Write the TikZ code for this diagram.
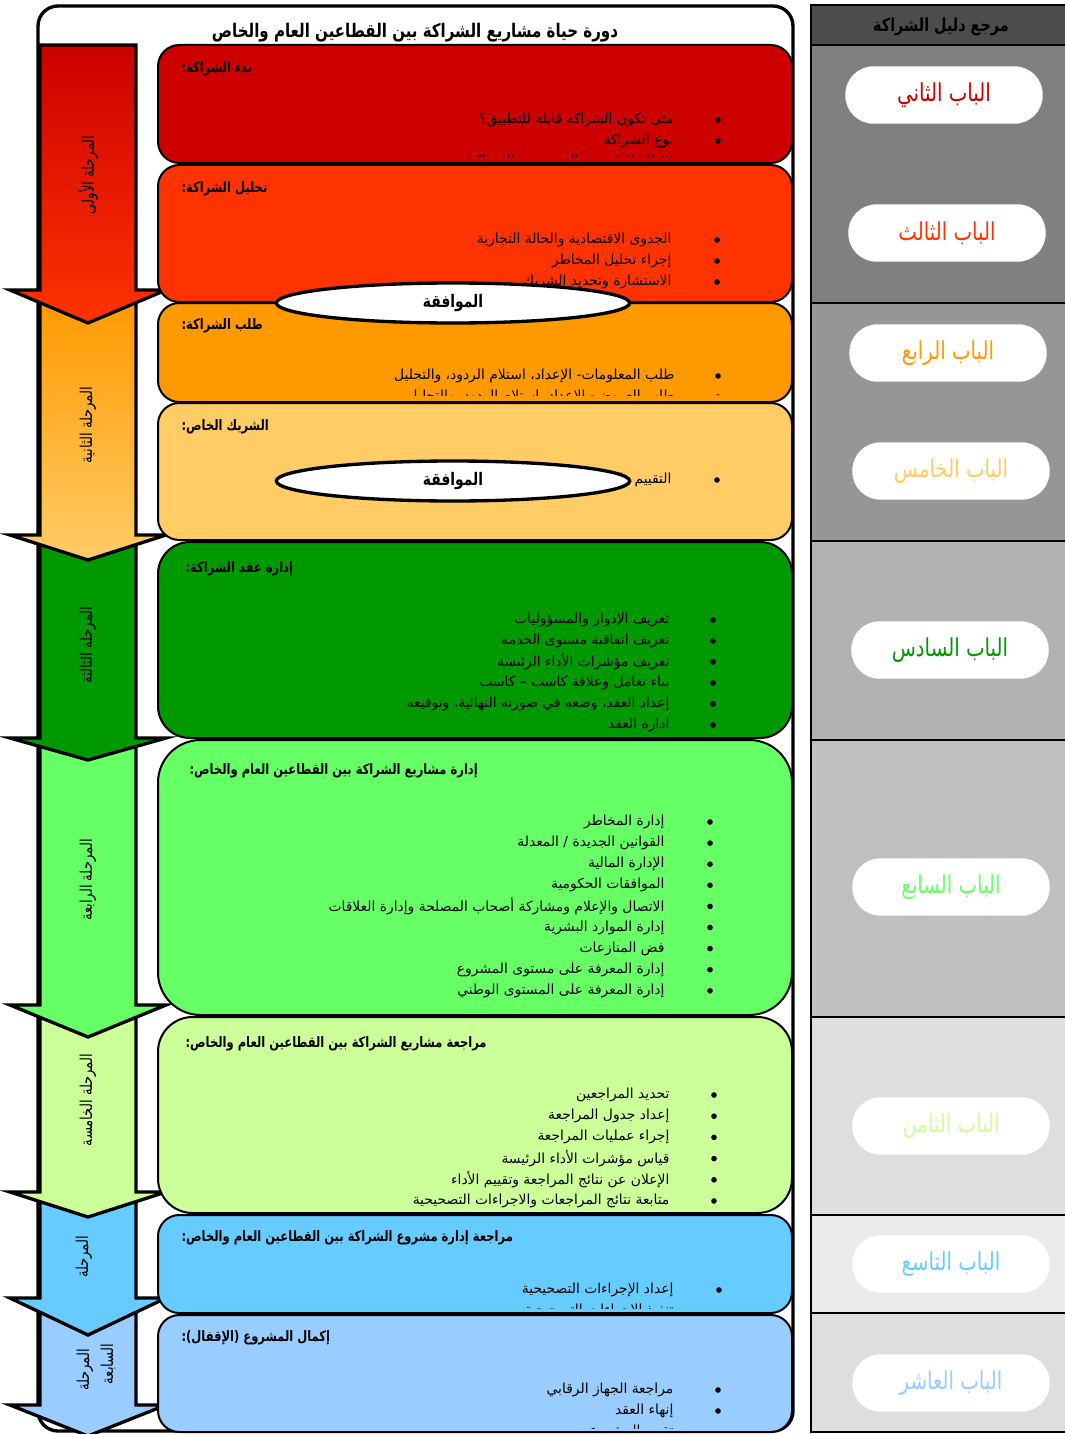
\documentclass[tikz,border=0pt]{standalone}
\usepackage{fontspec}
\newfontfamily\arabicfont[Script=Arabic]{DejaVu Sans}
\newfontfamily\arabicnarrow[Script=Arabic, FakeStretch=0.8]{DejaVu Sans}
\TeXXeTstate=1
\usetikzlibrary{shapes.geometric}

\definecolor{stA}{HTML}{CC0000}
\definecolor{stB}{HTML}{FF3300}
\definecolor{stC}{HTML}{FF9900}
\definecolor{stD}{HTML}{FFCC66}
\definecolor{stE}{HTML}{009900}
\definecolor{stF}{HTML}{66FF66}
\definecolor{stG}{HTML}{CCFF99}
\definecolor{stH}{HTML}{66CCFF}
\definecolor{stI}{HTML}{99CCFF}

% right-to-left run, colour set outside it
\newcommand{\rtlrun}[1]{\beginR#1\endR}

\tikzset{
  rtltext/.style={inner sep=1pt, execute at begin node=\beginR, execute at end node=\endR},
  boxtitle/.style={rtltext, anchor=west, font=\arabicnarrow\bfseries\fontsize{10.8}{12}\selectfont},
  item/.style={rtltext, anchor=east, font=\arabicfont\fontsize{10.4}{12}\selectfont},
  phaselabel/.style={rtltext, rotate=90, font=\arabicnarrow\fontsize{12.3}{14}\selectfont},
  stagebox/.style={draw=black, line width=1.5pt, rounded corners=16pt},
  phasearrow/.style={draw=black, line width=2.5pt, line join=miter},
  okay/.style={ellipse, draw=black, line width=2.5pt, fill=white, minimum width=265pt, minimum height=30pt, rtltext, font=\arabicnarrow\bfseries\fontsize{13}{15}\selectfont},
  pill/.style={fill=white, rounded corners=21pt, minimum width=148pt, minimum height=43pt, inner sep=1pt, font=\arabicnarrow\fontsize{18.5}{20}\selectfont},
  refrow/.style={draw=black, line width=2pt},
}

\begin{document}
\begin{tikzpicture}[x=0.75pt,y=-0.75pt]
    \useasboundingbox (0,0) rectangle (1064,1434);
    % outer frame
    \draw[line width=2.5pt, fill=white, rounded corners=15pt] (38,6) rectangle (793,1431);
    \node[rtltext, font=\arabicnarrow\bfseries\fontsize{14.1}{16}\selectfont] (title) at (415,33) {دورة حياة مشاريع الشراكة بين القطاعين العام والخاص};

    % reference column
    \filldraw[refrow, fill=black!70] (811,5) rectangle (1075,45);
    \filldraw[refrow, fill=black!50] (811,45) rectangle (1075,303);
    \filldraw[refrow, fill=black!41] (811,303) rectangle (1075,541);
    \filldraw[refrow, fill=black!30] (811,541) rectangle (1075,740);
    \filldraw[refrow, fill=black!25] (811,740) rectangle (1075,1017);
    \filldraw[refrow, fill=black!13] (811,1017) rectangle (1075,1215);
    \filldraw[refrow, fill=black!8] (811,1215) rectangle (1075,1313);
    \filldraw[refrow, fill=black!13] (811,1313) rectangle (1075,1432);
    \node[rtltext, font=\arabicnarrow\bfseries\fontsize{13.5}{15}\selectfont] (refhead) at (941,27) {مرجع دليل الشراكة};
    \node[pill] (ch2) at (944,95) {\color{stA}\rtlrun{الباب الثاني}};
    \node[pill] (ch3) at (947,233) {\color{stB}\rtlrun{الباب الثالث}};
    \node[pill] (ch4) at (948,353) {\color{stC}\rtlrun{الباب الرابع}};
    \node[pill] (ch5) at (951,471) {\color{stD}\rtlrun{الباب الخامس}};
    \node[pill] (ch6) at (950,650) {\color{stE}\rtlrun{الباب السادس}};
    \node[pill] (ch7) at (951,887) {\color{stF}\rtlrun{الباب السابع}};
    \node[pill] (ch8) at (951,1126) {\color{stG}\rtlrun{الباب الثامن}};
    \node[pill] (ch9) at (951,1264) {\color{stH}\rtlrun{الباب التاسع}};
    \node[pill] (ch10) at (951,1383) {\color{stI}\rtlrun{الباب العاشر}};

    % phase arrows, last one first
    \draw[phasearrow, fill=stI] (40,1305) -- (136,1305) -- (136,1405) -- (166,1405) -- (88,1436) -- (10,1405) -- (40,1405) -- cycle;
    \draw[phasearrow, fill=stH] (40,1200) -- (136,1200) -- (136,1298) -- (166,1298) -- (88,1335) -- (10,1298) -- (40,1298) -- cycle;
    \draw[phasearrow, fill=stG] (40,1012) -- (136,1012) -- (136,1192) -- (166,1192) -- (88,1217) -- (10,1192) -- (40,1192) -- cycle;
    \draw[phasearrow, fill=stF] (40,745) -- (136,745) -- (136,1005) -- (166,1005) -- (88,1037) -- (10,1005) -- (40,1005) -- cycle;
    \draw[phasearrow, fill=stE] (40,545) -- (136,545) -- (136,738) -- (166,738) -- (88,760) -- (10,738) -- (40,738) -- cycle;
    \draw[phasearrow, top color=stC, bottom color=stD] (40,300) -- (136,300) -- (136,535) -- (166,535) -- (88,560) -- (10,535) -- (40,535) -- cycle;
    \draw[phasearrow, top color=stA, bottom color=stB] (40,45) -- (136,45) -- (136,290) -- (166,290) -- (88,323) -- (10,290) -- (40,290) -- cycle;
    \node[phaselabel] (ph1) at (88,175) {المرحلة الأولى};
    \node[phaselabel] (ph2) at (88,425) {المرحلة الثانية};
    \node[phaselabel] (ph3) at (88,645) {المرحلة الثالثة};
    \node[phaselabel] (ph4) at (88,880) {المرحلة الرابعة};
    \node[phaselabel] (ph5) at (88,1100) {المرحلة الخامسة};
    \node[phaselabel] (ph6) at (84,1257) {المرحلة};
    \node[phaselabel] (ph7a) at (85,1370) {المرحلة};
    \node[phaselabel] (ph7b) at (108,1364) {السابعة};

    % stage 1
    \draw[stagebox, fill=stA] (158,45) rectangle (792,163);
    \begin{scope}
      \clip[rounded corners=16pt] (158,45) rectangle (792,157);
      \node[boxtitle] (t1) at (180,69) {بدء الشراكة:};
      \foreach \txt [count=\i] in {متى تكون الشراكة قابلة للتطبيق؟, نوع الشراكة, الإطار القانوني والمؤسسي للشراكة} {
        \node[item] (s1-\i) at (675,{120+21*(\i-1)}) {\txt};
        \fill (718,{120+21*(\i-1)}) circle (2.8);
      }
    \end{scope}
    % stage 2
    \draw[stagebox, fill=stB] (158,165) rectangle (792,302);
    \begin{scope}
      \clip[rounded corners=16pt] (158,165) rectangle (792,302);
      \node[boxtitle] (t2) at (180,189) {تحليل الشراكة:};
      \foreach \txt [count=\i] in {الجدوى الاقتصادية والحالة التجارية, إجراء تحليل المخاطر, الاستشارة وتحديد الشريك} {
        \node[item] (s2-\i) at (673,{240+21*(\i-1)}) {\txt};
        \fill (717,{240+21*(\i-1)}) circle (2.8);
      }
    \end{scope}
    % stage 3
    \draw[stagebox, fill=stC] (158,303) rectangle (792,402);
    \begin{scope}
      \clip[rounded corners=16pt] (158,303) rectangle (792,395);
      \node[boxtitle] (t3) at (180,326) {طلب الشراكة:};
      \foreach \txt [count=\i] in {طلب المعلومات- الإعداد، استلام الردود، والتحليل, طلب العروض- الإعداد، استلام الردود، والتحليل} {
        \node[item] (s3-\i) at (676,{376+21*(\i-1)}) {\txt};
        \fill (718,{376+21*(\i-1)}) circle (2.8);
      }
    \end{scope}
    % stage 4
    \draw[stagebox, fill=stD] (158,403) rectangle (792,540);
    \begin{scope}
      \clip[rounded corners=16pt] (158,403) rectangle (792,540);
      \node[boxtitle] (t4) at (180,427) {الشريك الخاص:};
      \node[item] (s4-1) at (673,480) {التقييم والاختيار};
      \fill (717,480) circle (2.8);
    \end{scope}
    % stage 5
    \draw[stagebox, fill=stE, rounded corners=24pt] (158,542) rectangle (792,738);
    \begin{scope}
      \clip[rounded corners=24pt] (158,542) rectangle (792,738);
      \node[boxtitle] (t5) at (184,569) {إدارة عقد الشراكة:};
      \foreach \txt [count=\i] in {تعريف الإدوار والمسؤوليات, تعريف اتفاقية مستوى الخدمة, تعريف مؤشرات الأداء الرئيسة, بناء تعامل وعلاقة كاسب – كاسب, إعداد العقد، وضعه في صورته النهائية، وتوقيعه, ادارة العقد} {
        \node[item] (s5-\i) at (671,{620+21*(\i-1)}) {\txt};
        \fill (713,{620+21*(\i-1)}) circle (2.8);
      }
    \end{scope}
    % stage 6
    \draw[stagebox, fill=stF, rounded corners=32pt] (158,740) rectangle (792,1015);
    \begin{scope}
      \clip[rounded corners=32pt] (158,740) rectangle (792,1015);
      \node[boxtitle] (t6) at (188,771) {إدارة مشاريع الشراكة بين القطاعين العام والخاص:};
      \foreach \txt [count=\i] in {إدارة المخاطر, القوانين الجديدة / المعدلة, الإدارة المالية, الموافقات الحكومية, الاتصال والإعلام ومشاركة أصحاب المصلحة وإدارة العلاقات, إدارة الموارد البشرية, فض المنازعات, إدارة المعرفة على مستوى المشروع, إدارة المعرفة على المستوى الوطني} {
        \node[item] (s6-\i) at (666,{822+21.1*(\i-1)}) {\txt};
        \fill (710,{822+21.1*(\i-1)}) circle (2.8);
      }
    \end{scope}
    % stage 7
    \draw[stagebox, fill=stG, rounded corners=26pt] (158,1017) rectangle (792,1213);
    \begin{scope}
      \clip[rounded corners=26pt] (158,1017) rectangle (792,1208);
      \node[boxtitle] (t7) at (184,1044) {مراجعة مشاريع الشراكة بين القطاعين العام والخاص:};
      \foreach \txt [count=\i] in {تحديد المراجعين, إعداد جدول المراجعة, إجراء عمليات المراجعة, قياس مؤشرات الأداء الرئيسة, الإعلان عن نتائج المراجعة وتقييم الأداء, متابعة نتائج المراجعات والاجراءات التصحيحية} {
        \node[item] (s7-\i) at (671,{1095+21.2*(\i-1)}) {\txt};
        \fill (714,{1095+21.2*(\i-1)}) circle (2.8);
      }
    \end{scope}
    % stage 8
    \draw[stagebox, fill=stH] (158,1215) rectangle (792,1313);
    \begin{scope}
      \clip[rounded corners=16pt] (158,1215) rectangle (792,1308);
      \node[boxtitle] (t8) at (180,1238) {مراجعة إدارة مشروع الشراكة بين القطاعين العام والخاص:};
      \foreach \txt [count=\i] in {إعداد الإجراءات التصحيحية, تنفيذ الإجراءات التصحيحية} {
        \node[item] (s8-\i) at (675,{1290+21*(\i-1)}) {\txt};
        \fill (719,{1290+21*(\i-1)}) circle (2.8);
      }
    \end{scope}
    % stage 9
    \draw[stagebox, fill=stI] (158,1315) rectangle (792,1432);
    \begin{scope}
      \clip[rounded corners=16pt] (158,1315) rectangle (792,1428);
      \node[boxtitle] (t9) at (180,1338) {إكمال المشروع (الإقفال):};
      \foreach \txt [count=\i] in {مراجعة الجهاز الرقابي, إنهاء العقد, تقييم المشروع} {
        \node[item] (s9-\i) at (675,{1390+21*(\i-1)}) {\txt};
        \fill (718,{1390+21*(\i-1)}) circle (2.8);
      }
    \end{scope}

    % approval gates
    \node[okay] (ok1) at (453,303) {الموافقة};
    \node[okay] (ok2) at (453,481) {الموافقة};
\end{tikzpicture}
\end{document}
